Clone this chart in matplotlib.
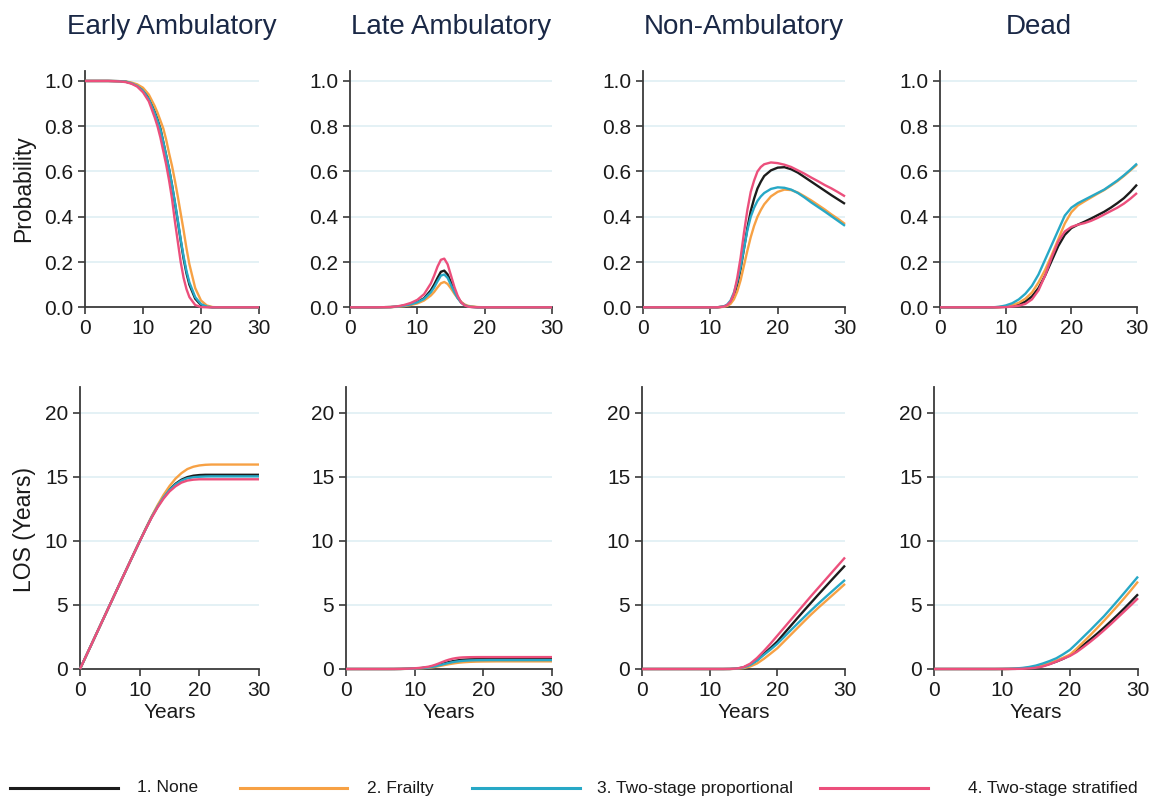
import matplotlib
matplotlib.use("Agg")
import matplotlib.pyplot as plt
from matplotlib.lines import Line2D

plt.rcParams['font.family'] = ['Liberation Sans', 'DejaVu Sans']

# ---------------- data ----------------
STATES = ["Early Ambulatory", "Late Ambulatory", "Non-Ambulatory", "Dead"]
SERIES = ["1. None", "2. Frailty", "3. Two-stage proportional", "4. Two-stage stratified"]
COLORS = ["#1c1c1c", "#f7a144", "#27a8c6", "#ec4f7c"]

X_FINE = [0, 2, 4, 6, 7, 8, 9, 10, 11, 12, 12.5, 13, 13.5, 14, 14.5, 15, 15.5, 16, 16.5,
          17, 17.5, 18, 19, 20, 21, 22, 23, 24, 25, 26, 27, 28, 29, 30]
X_YEAR = list(range(31))

# Probability - Early Ambulatory (X_FINE)
prob_early_none = [1, 1, 1, 0.999, 0.997, 0.99, 0.98, 0.96, 0.925, 0.865, 0.83, 0.79, 0.73, 0.67, 0.61, 0.54, 0.46, 0.38, 0.295,
                   0.215, 0.15, 0.10, 0.038, 0.01, 0.002, 0, 0, 0, 0, 0, 0, 0, 0, 0]
prob_early_frailty = [1, 1, 1, 0.999, 0.998, 0.993, 0.985, 0.97, 0.94, 0.89, 0.86, 0.825, 0.79, 0.74, 0.68, 0.625, 0.56, 0.49, 0.415,
                      0.34, 0.26, 0.19, 0.085, 0.03, 0.008, 0.001, 0, 0, 0, 0, 0, 0, 0, 0]
prob_early_tsprop = [1, 1, 1, 0.999, 0.997, 0.99, 0.978, 0.957, 0.92, 0.86, 0.825, 0.785, 0.73, 0.67, 0.61, 0.54, 0.465, 0.385, 0.30,
                     0.225, 0.16, 0.11, 0.045, 0.014, 0.003, 0, 0, 0, 0, 0, 0, 0, 0, 0]
prob_early_tsstrat = [1, 1, 1, 0.998, 0.995, 0.988, 0.975, 0.95, 0.91, 0.84, 0.80, 0.75, 0.69, 0.63, 0.56, 0.48, 0.38, 0.29, 0.20,
                      0.13, 0.08, 0.045, 0.01, 0.001, 0, 0, 0, 0, 0, 0, 0, 0, 0, 0]

# Probability - Late Ambulatory (X_FINE)
prob_late_none = [0, 0, 0, 0.001, 0.003, 0.007, 0.013, 0.023, 0.04, 0.075, 0.10, 0.13, 0.157, 0.162, 0.145, 0.11, 0.075, 0.043, 0.022,
                  0.01, 0.004, 0.002, 0, 0, 0, 0, 0, 0, 0, 0, 0, 0, 0, 0]
prob_late_frailty = [0, 0, 0, 0.001, 0.002, 0.005, 0.01, 0.017, 0.03, 0.052, 0.068, 0.088, 0.106, 0.112, 0.103, 0.083, 0.06, 0.04, 0.024,
                     0.013, 0.007, 0.004, 0.001, 0, 0, 0, 0, 0, 0, 0, 0, 0, 0, 0]
prob_late_tsprop = [0, 0, 0, 0.001, 0.003, 0.007, 0.013, 0.022, 0.037, 0.066, 0.088, 0.115, 0.14, 0.145, 0.13, 0.098, 0.067, 0.04, 0.021,
                    0.01, 0.004, 0.002, 0, 0, 0, 0, 0, 0, 0, 0, 0, 0, 0, 0]
prob_late_tsstrat = [0, 0, 0, 0.001, 0.004, 0.01, 0.019, 0.033, 0.058, 0.105, 0.14, 0.18, 0.21, 0.215, 0.19, 0.14, 0.09, 0.05, 0.022,
                     0.009, 0.003, 0.001, 0, 0, 0, 0, 0, 0, 0, 0, 0, 0, 0, 0]

# Probability - Non-Ambulatory (X_FINE)
prob_nonamb_none = [0, 0, 0, 0, 0, 0, 0, 0, 0, 0.003, 0.008, 0.02, 0.05, 0.10, 0.17, 0.26, 0.35, 0.425, 0.48,
                    0.525, 0.555, 0.58, 0.605, 0.617, 0.619, 0.61, 0.595, 0.575, 0.555, 0.535, 0.515, 0.495, 0.476, 0.457]
prob_nonamb_frailty = [0, 0, 0, 0, 0, 0, 0, 0, 0, 0.002, 0.006, 0.015, 0.035, 0.07, 0.12, 0.185, 0.25, 0.31, 0.36,
                       0.40, 0.43, 0.455, 0.49, 0.51, 0.52, 0.518, 0.507, 0.49, 0.472, 0.452, 0.432, 0.41, 0.39, 0.368]
prob_nonamb_tsprop = [0, 0, 0, 0, 0, 0, 0, 0, 0, 0.004, 0.012, 0.03, 0.065, 0.115, 0.18, 0.26, 0.34, 0.40, 0.44,
                      0.47, 0.49, 0.505, 0.523, 0.53, 0.528, 0.52, 0.505, 0.485, 0.463, 0.443, 0.423, 0.402, 0.381, 0.36]
prob_nonamb_tsstrat = [0, 0, 0, 0, 0, 0, 0, 0, 0, 0.003, 0.01, 0.025, 0.06, 0.13, 0.22, 0.33, 0.43, 0.51, 0.56,
                       0.60, 0.62, 0.632, 0.64, 0.637, 0.63, 0.62, 0.605, 0.59, 0.573, 0.557, 0.54, 0.525, 0.508, 0.49]

# Probability - Dead (X_YEAR)
prob_dead_none = [0, 0, 0, 0, 0, 0, 0, 0, 0, 0.001, 0.002, 0.005, 0.012, 0.025, 0.048, 0.085, 0.14, 0.205, 0.27, 0.32,
                  0.35, 0.365, 0.378, 0.392, 0.407, 0.422, 0.44, 0.46, 0.482, 0.51, 0.542]
prob_dead_frailty = [0, 0, 0, 0, 0, 0, 0, 0, 0, 0.001, 0.004, 0.01, 0.02, 0.038, 0.065, 0.11, 0.165, 0.23, 0.30, 0.37,
                     0.42, 0.45, 0.468, 0.485, 0.502, 0.518, 0.537, 0.557, 0.58, 0.605, 0.63]
prob_dead_tsprop = [0, 0, 0, 0, 0, 0, 0, 0, 0, 0.002, 0.008, 0.018, 0.035, 0.06, 0.095, 0.145, 0.21, 0.275, 0.34, 0.405,
                    0.44, 0.46, 0.475, 0.49, 0.505, 0.52, 0.54, 0.56, 0.583, 0.608, 0.635]
prob_dead_tsstrat = [0, 0, 0, 0, 0, 0, 0, 0, 0, 0, 0.001, 0.003, 0.007, 0.015, 0.035, 0.075, 0.14, 0.22, 0.29, 0.335,
                     0.355, 0.365, 0.372, 0.382, 0.395, 0.41, 0.425, 0.44, 0.458, 0.48, 0.505]

# LOS - Early Ambulatory (X_YEAR)
los_early_none = [0, 1, 2, 3, 4, 5, 6, 7, 7.99, 8.98, 9.96, 10.92, 11.85, 12.68, 13.41, 14.0, 14.45, 14.77, 14.97, 15.08,
                  15.13, 15.15, 15.15, 15.15, 15.15, 15.15, 15.15, 15.15, 15.15, 15.15, 15.15]
los_early_frailty = [0, 1, 2, 3, 4, 5, 6, 7, 7.99, 8.98, 9.97, 10.95, 11.9, 12.78, 13.58, 14.27, 14.85, 15.28, 15.6, 15.78,
                     15.88, 15.93, 15.95, 15.95, 15.95, 15.95, 15.95, 15.95, 15.95, 15.95, 15.95]
los_early_tsprop = [0, 1, 2, 3, 4, 5, 6, 7, 7.99, 8.98, 9.96, 10.92, 11.85, 12.66, 13.38, 13.97, 14.4, 14.7, 14.88, 14.96,
                    15.0, 15.02, 15.03, 15.03, 15.03, 15.03, 15.03, 15.03, 15.03, 15.03, 15.03]
los_early_tsstrat = [0, 1, 2, 3, 4, 5, 6, 7, 7.99, 8.98, 9.95, 10.9, 11.8, 12.6, 13.29, 13.85, 14.25, 14.54, 14.7, 14.77,
                     14.8, 14.8, 14.8, 14.8, 14.8, 14.8, 14.8, 14.8, 14.8, 14.8, 14.8]

# LOS - Late Ambulatory (X_FINE)
los_late_none = [0, 0, 0, 0, 0.001, 0.007, 0.02, 0.042, 0.075, 0.135, 0.18, 0.24, 0.315, 0.395, 0.47, 0.54, 0.60, 0.65, 0.69,
                 0.72, 0.74, 0.755, 0.77, 0.775, 0.78, 0.78, 0.78, 0.78, 0.78, 0.78, 0.78, 0.78, 0.78, 0.78]
los_late_frailty = [0, 0, 0, 0, 0.001, 0.005, 0.014, 0.03, 0.055, 0.095, 0.125, 0.165, 0.215, 0.27, 0.325, 0.375, 0.42, 0.46, 0.495,
                    0.52, 0.54, 0.555, 0.575, 0.585, 0.59, 0.595, 0.595, 0.595, 0.595, 0.595, 0.595, 0.595, 0.595, 0.595]
los_late_tsprop = [0, 0, 0, 0, 0.001, 0.006, 0.018, 0.038, 0.068, 0.12, 0.16, 0.21, 0.275, 0.345, 0.415, 0.475, 0.53, 0.575, 0.61,
                   0.635, 0.655, 0.67, 0.685, 0.69, 0.695, 0.695, 0.695, 0.695, 0.695, 0.695, 0.695, 0.695, 0.695, 0.695]
los_late_tsstrat = [0, 0, 0, 0, 0.002, 0.01, 0.025, 0.055, 0.10, 0.18, 0.245, 0.33, 0.43, 0.54, 0.645, 0.73, 0.80, 0.85, 0.885,
                    0.905, 0.915, 0.922, 0.928, 0.93, 0.93, 0.93, 0.93, 0.93, 0.93, 0.93, 0.93, 0.93, 0.93, 0.93]

# LOS - Non-Ambulatory (X_YEAR)
los_nonamb_none = [0, 0, 0, 0, 0, 0, 0, 0, 0, 0, 0, 0, 0, 0.004, 0.025, 0.12, 0.34, 0.70, 1.17, 1.64,
                   2.15, 2.77, 3.38, 3.99, 4.59, 5.18, 5.77, 6.35, 6.93, 7.50, 8.07]
los_nonamb_frailty = [0, 0, 0, 0, 0, 0, 0, 0, 0, 0, 0, 0, 0, 0.003, 0.016, 0.07, 0.20, 0.43, 0.79, 1.20,
                      1.62, 2.15, 2.68, 3.21, 3.74, 4.26, 4.75, 5.22, 5.69, 6.16, 6.64]
los_nonamb_tsprop = [0, 0, 0, 0, 0, 0, 0, 0, 0, 0, 0, 0, 0, 0.006, 0.03, 0.12, 0.32, 0.65, 1.10, 1.52,
                     1.97, 2.50, 3.03, 3.55, 4.07, 4.58, 5.07, 5.55, 6.02, 6.49, 6.95]
los_nonamb_tsstrat = [0, 0, 0, 0, 0, 0, 0, 0, 0, 0, 0, 0, 0, 0.008, 0.035, 0.15, 0.42, 0.86, 1.40, 1.98,
                      2.60, 3.22, 3.84, 4.46, 5.08, 5.70, 6.30, 6.90, 7.50, 8.10, 8.70]

# LOS - Dead (X_YEAR)
los_dead_none = [0, 0, 0, 0, 0, 0, 0, 0, 0, 0, 0.002, 0.005, 0.012, 0.03, 0.065, 0.13, 0.24, 0.40, 0.58, 0.80,
                 1.08, 1.47, 1.88, 2.31, 2.76, 3.23, 3.72, 4.22, 4.74, 5.28, 5.83]
los_dead_frailty = [0, 0, 0, 0, 0, 0, 0, 0, 0, 0, 0.002, 0.008, 0.022, 0.05, 0.10, 0.18, 0.30, 0.46, 0.66, 0.88,
                    1.12, 1.60, 2.12, 2.65, 3.20, 3.76, 4.34, 4.93, 5.54, 6.17, 6.82]
los_dead_tsprop = [0, 0, 0, 0, 0, 0, 0, 0, 0, 0, 0.004, 0.015, 0.04, 0.085, 0.16, 0.27, 0.43, 0.62, 0.84, 1.15,
                   1.50, 2.00, 2.52, 3.04, 3.58, 4.12, 4.72, 5.33, 5.95, 6.58, 7.21]
los_dead_tsstrat = [0, 0, 0, 0, 0, 0, 0, 0, 0, 0, 0.001, 0.003, 0.007, 0.018, 0.045, 0.10, 0.20, 0.37, 0.58, 0.80,
                    1.02, 1.33, 1.72, 2.13, 2.56, 3.02, 3.50, 4.00, 4.50, 5.00, 5.52]

PROB_PANELS = [
    (X_FINE, [prob_early_none, prob_early_frailty, prob_early_tsprop, prob_early_tsstrat]),
    (X_FINE, [prob_late_none, prob_late_frailty, prob_late_tsprop, prob_late_tsstrat]),
    (X_FINE, [prob_nonamb_none, prob_nonamb_frailty, prob_nonamb_tsprop, prob_nonamb_tsstrat]),
    (X_YEAR, [prob_dead_none, prob_dead_frailty, prob_dead_tsprop, prob_dead_tsstrat]),
]
LOS_PANELS = [
    (X_YEAR, [los_early_none, los_early_frailty, los_early_tsprop, los_early_tsstrat]),
    (X_FINE, [los_late_none, los_late_frailty, los_late_tsprop, los_late_tsstrat]),
    (X_YEAR, [los_nonamb_none, los_nonamb_frailty, los_nonamb_tsprop, los_nonamb_tsstrat]),
    (X_YEAR, [los_dead_none, los_dead_frailty, los_dead_tsprop, los_dead_tsstrat]),
]

PROB_TICKS = [0.0, 0.2, 0.4, 0.6, 0.8, 1.0]
PROB_TICKLABELS = ["0.0", "0.2", "0.4", "0.6", "0.8", "1.0"]
LOS_TICKS = [0, 5, 10, 15, 20]
LOS_TICKLABELS = ["0", "5", "10", "15", "20"]
X_TICKS = [0, 10, 20, 30]

# ---------------- layout ----------------
W, H = 1151, 798
fig = plt.figure(figsize=(W / 100, H / 100), dpi=100)


def rect(x0, x1, ytop, ybot):
    return [x0 / W, 1 - ybot / H, (x1 - x0) / W, (ybot - ytop) / H]


TOP_X = [(85, 259), (350, 552), (643, 845), (940, 1137)]
BOT_X = [(80, 259), (346, 552), (642, 845), (934, 1138)]
TOP_Y = (71, 307.3)
BOT_Y = (387, 669)

SPINE = "#3a3a3a"
GRID = "#e2f0f4"
TXT = "#1a1a1a"
TITLE = "#1a2846"


def style(ax, ylim, yticks, yticklabels):
    ax.set_xlim(0, 30)
    ax.set_ylim(*ylim)
    ax.set_xticks(X_TICKS)
    ax.set_xticklabels([str(t) for t in X_TICKS])
    ax.set_yticks(yticks)
    ax.set_yticklabels(yticklabels)
    for t in yticks[1:]:
        ax.axhline(t, color=GRID, lw=1.3, zorder=0)
    for s in ["top", "right"]:
        ax.spines[s].set_visible(False)
    for s in ["left", "bottom"]:
        ax.spines[s].set_color(SPINE)
        ax.spines[s].set_linewidth(1.3)
        ax.spines[s].set_zorder(1)
    ax.tick_params(direction="out", length=5, width=1.2, color=SPINE,
                   labelsize=15, labelcolor=TXT, pad=3.5)
    ax.set_facecolor("white")


for i in range(4):
    # top row: probability
    ax = fig.add_axes(rect(TOP_X[i][0], TOP_X[i][1], TOP_Y[0], TOP_Y[1]))
    style(ax, (0, 1.044), PROB_TICKS, PROB_TICKLABELS)
    xs, ys_list = PROB_PANELS[i]
    for ys, c in zip(ys_list, COLORS):
        ax.plot(xs, ys, color=c, lw=1.7, clip_on=False, zorder=3,
                solid_joinstyle="round", solid_capstyle="butt")
    ax.set_title(STATES[i], fontsize=20, color=TITLE, pad=27)

    # bottom row: LOS
    ax2 = fig.add_axes(rect(BOT_X[i][0], BOT_X[i][1], BOT_Y[0], BOT_Y[1]))
    style(ax2, (0, 22.0), LOS_TICKS, LOS_TICKLABELS)
    xs, ys_list = LOS_PANELS[i]
    for ys, c in zip(ys_list, COLORS):
        ax2.plot(xs, ys, color=c, lw=1.7, clip_on=False, zorder=3,
                 solid_joinstyle="round", solid_capstyle="butt")
    cx = (BOT_X[i][0] + BOT_X[i][1]) / 2
    fig.text(cx / W, 1 - 712 / H, "Years", fontsize=15, color=TXT,
             ha="center", va="center")

fig.text(24 / W, 1 - 189 / H, "Probability", fontsize=16.5, color=TXT,
         rotation=90, ha="center", va="center")
fig.text(24 / W, 1 - 530 / H, "LOS (Years)", fontsize=16.5, color=TXT,
         rotation=90, ha="center", va="center")

# legend
LEG_LINES = [(10, 118), (240, 347), (472, 580), (820, 928)]
LEG_TEXT_X = [137, 367, 597, 968]
LEG_Y = 788
for (x0, x1), tx, lab, c in zip(LEG_LINES, LEG_TEXT_X, SERIES, COLORS):
    fig.add_artist(Line2D([x0 / W, x1 / W], [1 - LEG_Y / H, 1 - LEG_Y / H],
                          transform=fig.transFigure, color=c, lw=2.2))
    fig.text(tx / W, 1 - LEG_Y / H, lab, fontsize=12.5, color=TXT,
             ha="left", va="center")

fig.savefig("out.png", dpi=100, facecolor="white")
